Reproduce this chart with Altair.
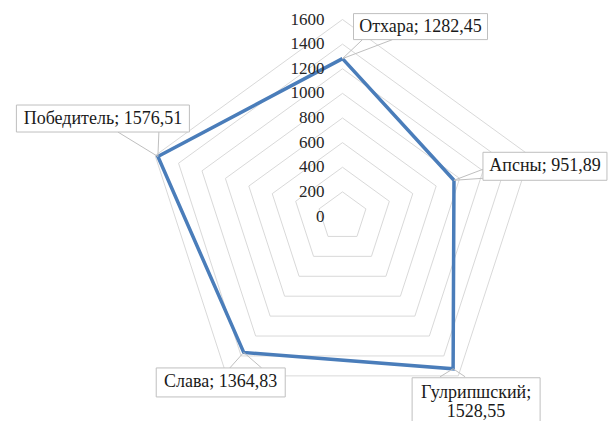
import math

import altair as alt
import pandas as pd

# Series values per district
categories = ["Отхара", "Апсны", "Гулрипшский", "Слава", "Победитель"]
values = [1282.45, 951.89, 1528.55, 1364.83, 1576.51]

# Radial grid
ring_levels = [200, 400, 600, 800, 1000, 1200, 1400, 1600]
tick_values = [0, 200, 400, 600, 800, 1000, 1200, 1400, 1600]
tick_labels = ["0", "200", "400", "600", "800", "1000", "1200", "1400", "1600"]

# Label text, with line breaks where the callout wraps
label_lines = {
    "Отхара": None,
    "Апсны": None,
    "Гулрипшский": "\n",
    "Слава": None,
    "Победитель": None,
}

# Canvas geometry (pixels)
W, H = 611, 421
CX, CY = 342.5, 216.5          # centre of the radar in the view
R_PX = 197.0                    # radius of the outermost ring
R_MAX = 1600.0
K = R_PX / R_MAX                # pixels per value unit
LINE_H = 19                     # line height of wrapped callout text

# Callout layout, in pixels relative to the data vertex:
# box centre offset, box size, and the two base points of the pointer
callout_layout = {
    "Отхара":      dict(dx=78,  dy=-32, w=134, h=26, base=[(20, -19), (50, -19)]),
    "Апсны":       dict(dx=91,  dy=-14, w=124, h=28, base=[(29, -11), (29, -2)]),
    "Гулрипшский": dict(dx=23,  dy=34,  w=128, h=50, base=[(-13, 8), (12, 8)]),
    "Слава":       dict(dx=-23, dy=30,  w=129, h=29, base=[(-14, 15.6), (18, 15.6)]),
    "Победитель":  dict(dx=-55, dy=-38, w=173, h=27, base=[(-40, -24.5), (1, -24.5)]),
}

n = len(categories)


def angle(i):
    return math.radians(90 - 360.0 * i / n)


def polar(r, i):
    a = angle(i)
    return r * math.cos(a), r * math.sin(a)


# Ring polygons
ring_rows = []
for lvl in ring_levels:
    for j in range(n + 1):
        x, y = polar(lvl, j % n)
        ring_rows.append(dict(ring=lvl, order=j, x=x, y=y))
rings_df = pd.DataFrame(ring_rows)

# Series polygon (closed)
series_rows = []
for j in range(n + 1):
    i = j % n
    x, y = polar(values[i], i)
    series_rows.append(dict(order=j, x=x, y=y, cat=categories[i]))
series_df = pd.DataFrame(series_rows)

# Callout boxes, texts and pointers
box_rows, ptr_rows = [], []
for i, (cat, val) in enumerate(zip(categories, values)):
    vx, vy = polar(val, i)
    lay = callout_layout[cat]
    cx = vx + lay["dx"] / K
    cy = vy - lay["dy"] / K
    sep = label_lines[cat] or " "
    text = f"{cat};{sep}{val:.2f}".replace(".", ",")
    n_lines = text.count("\n") + 1
    # first line sits above the box centre so the block is centred
    ty = cy + (n_lines - 1) * LINE_H / 2 / K
    box_rows.append(dict(
        cat=cat, text=text, cx=cx, cy=cy, ty=ty,
        x0=cx - lay["w"] / 2 / K, x1=cx + lay["w"] / 2 / K,
        y0=cy - lay["h"] / 2 / K, y1=cy + lay["h"] / 2 / K,
    ))
    (b1x, b1y), (b2x, b2y) = lay["base"]
    pts = [(vx + b1x / K, vy - b1y / K), (vx, vy), (vx + b2x / K, vy - b2y / K)]
    for k, (px, py) in enumerate(pts):
        ptr_rows.append(dict(cat=cat, order=k, x=px, y=py))
box_df = pd.DataFrame(box_rows)
ptr_df = pd.DataFrame(ptr_rows)

ticks_df = pd.DataFrame(dict(v=tick_values, label=tick_labels, x=[0.0] * len(tick_values)))

x_scale = alt.Scale(domain=[-CX / K, (W - CX) / K], nice=False, zero=False)
y_scale = alt.Scale(domain=[-(H - CY) / K, CY / K], nice=False, zero=False)

X = lambda f: alt.X(f, type="quantitative", scale=x_scale, axis=None)
Y = lambda f: alt.Y(f, type="quantitative", scale=y_scale, axis=None)

rings = alt.Chart(rings_df).mark_line(color="#d9d9d9", strokeWidth=1).encode(
    x=X("x"), y=Y("y"), detail="ring:N", order="order:Q"
)

series = alt.Chart(series_df).mark_line(
    color="#4a7dba", strokeWidth=3.5, strokeJoin="miter"
).encode(x=X("x"), y=Y("y"), order="order:Q")

ticks = alt.Chart(ticks_df).mark_text(
    align="right", baseline="middle", dx=-18, font="Liberation Serif",
    fontSize=17, color="#262626"
).encode(x=X("x"), y=Y("v"), text="label:N")

pointers = alt.Chart(ptr_df).mark_line(color="#bfbfbf", strokeWidth=1).encode(
    x=X("x"), y=Y("y"), detail="cat:N", order="order:Q"
)

boxes = alt.Chart(box_df).mark_rect(
    fill="white", stroke="#bfbfbf", strokeWidth=1
).encode(x=X("x0"), x2="x1", y=Y("y0"), y2="y1")

box_text = alt.Chart(box_df).mark_text(
    align="center", baseline="middle", font="Liberation Serif",
    fontSize=18, lineBreak="\n", lineHeight=LINE_H, color="#1a1a1a"
).encode(x=X("cx"), y=Y("ty"), text="text:N")

chart = (
    alt.layer(rings, series, ticks, pointers, boxes, box_text)
    .properties(width=W, height=H, background="white", padding=0,
                autosize=alt.AutoSizeParams(type="none"))
    .configure_view(stroke=None)
)

chart.save("out.html", embed_options={"renderer": "svg", "actions": False})
